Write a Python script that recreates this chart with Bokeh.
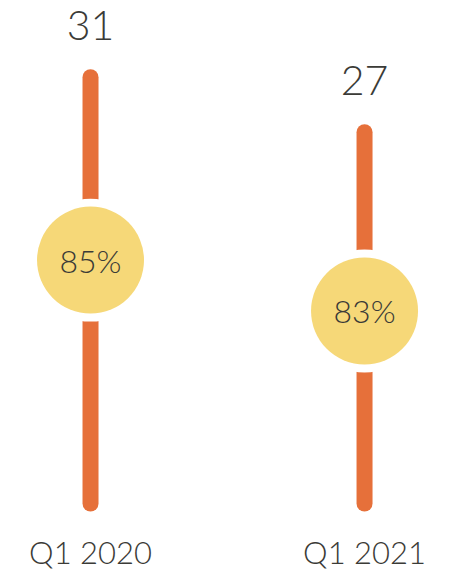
from bokeh.plotting import figure
from bokeh.models import ColumnDataSource, Range1d
from bokeh.core.properties import value
from bokeh.embed import file_html
from bokeh.resources import INLINE

categories = ["Q1 2020", "Q1 2021"]
counts = [31, 27]
shares = ["85%", "83%"]
circle_level = [17.7, 14.0]

xs = list(range(len(categories)))
src = ColumnDataSource(dict(
    x=xs, zero=[0] * len(xs), top=counts,
    count_txt=[str(c) for c in counts],
    share=shares, cy=circle_level, cat=categories,
    lab_y=[-3.56] * len(xs),
))

p = figure(width=452, height=572, output_backend="svg", toolbar_location=None,
           x_range=Range1d(-0.3285, 1.321), y_range=Range1d(-5.02, 36.58),
           min_border=0)
p.axis.visible = False
p.grid.visible = False
p.outline_line_color = None

ORANGE = "#E6703A"
YELLOW = "#F6D878"
TEXT = "#3b3b37"
FONT = value("'Lato Light', 'Lato', sans-serif")

p.segment(x0="x", y0="zero", x1="x", y1="top", source=src,
          line_color=ORANGE, line_width=16, line_cap="round")
p.scatter(x="x", y="cy", source=src, marker="circle", size=123,
          fill_color="white", line_color=None)
p.scatter(x="x", y="cy", source=src, marker="circle", size=107,
          fill_color=YELLOW, line_color=None)
p.text(x="x", y="cy", text="share", source=src, text_align="center",
       text_baseline="middle", text_font=FONT, text_font_size="32px",
       text_color=TEXT)
p.text(x="x", y="top", text="count_txt", source=src, text_align="center",
       text_baseline="middle", y_offset=-52, text_font=FONT,
       text_font_size="41px", text_color=TEXT)
p.text(x="x", y="lab_y", text="cat", source=src, text_align="center",
       text_baseline="middle", text_font=FONT, text_font_size="31px",
       text_color=TEXT)

open("out.html", "w").write(file_html(p, INLINE))
